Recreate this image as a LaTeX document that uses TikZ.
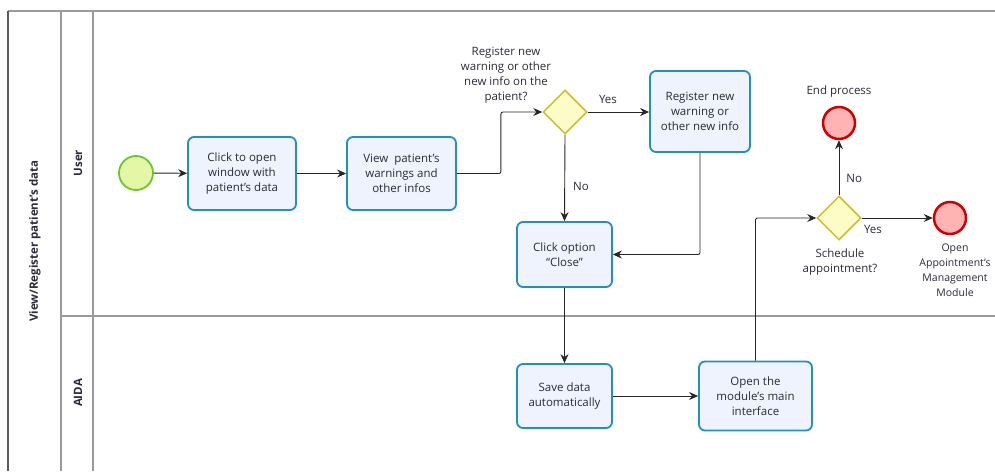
\documentclass[tikz,border=0pt]{standalone}
\usepackage{fontspec}
\setmainfont{Open Sans}
\usetikzlibrary{shapes.geometric,arrows.meta}
\definecolor{taskdraw}{HTML}{2290BE}
\definecolor{taskfill}{HTML}{EEF3FD}
\definecolor{gwdraw}{HTML}{C9C02A}
\definecolor{gwfill}{HTML}{FDFBC6}
\definecolor{stdraw}{HTML}{6AC72A}
\definecolor{stfill}{HTML}{E3F7A6}
\definecolor{endraw}{HTML}{D10000}
\definecolor{enfill}{HTML}{FFB4B4}
\definecolor{txt}{HTML}{2A2A3A}
\definecolor{lanecol}{HTML}{9A9A9A}
\tikzset{
  every node/.style={font=\fontsize{11.5}{15}\selectfont, text=txt},
  taskbox/.style={draw=taskdraw, fill=taskfill, line width=1.8pt, rounded corners=6pt, align=center, inner sep=2pt},
  gateway/.style={diamond, aspect=1, draw=gwdraw, fill=gwfill, line width=1.5pt, minimum width=44pt, minimum height=44pt, inner sep=0pt},
  startev/.style={circle, draw=stdraw, fill=stfill, line width=1.8pt, minimum size=34pt, inner sep=0pt},
  endev/.style={circle, draw=endraw, fill=enfill, line width=2.5pt, minimum size=32pt, inner sep=0pt},
  flow/.style={draw=black!85, line width=0.9pt, rounded corners=2pt, -{Stealth[length=9pt,width=8pt,inset=3pt]}},
  lbl/.style={align=center, inner sep=0pt},
  lanelbl/.style={rotate=90, font=\bfseries\fontsize{11.5}{14}\selectfont},
  laneline/.style={draw=lanecol, line width=1.2pt}
}
\begin{document}
\begin{tikzpicture}[x=1pt,y=-1pt]
\useasboundingbox (0,0) rectangle (995,471);
% pool and lanes
\draw[laneline] (8,11) -- (995,11);
\draw[draw=black!65, line width=1.3pt] (8,11) -- (8,471);
\draw[laneline] (61,11) -- (61,471);
\draw[laneline] (93,11) -- (93,471);
\draw[laneline] (61,316) -- (995,316);
\node[lanelbl] (pool) at (35,241) {View/Register patient's data};
\node[lanelbl] (laneuser) at (78,163) {User};
\node[lanelbl] (laneaida) at (78,393) {AIDA};
% events
\node[startev] (start) at (136,173) {};
\node[endev] (e1) at (839,123) {};
\node[endev] (e2) at (950,218) {};
% tasks
\node[taskbox, minimum width=108pt, minimum height=73pt] (t1) at (242,173.5) {Click to open\\window with\\patient's data};
\node[taskbox, minimum width=109pt, minimum height=73pt] (t2) at (401.5,173.5) {View\ \ patient's\\warnings and\\other infos};
\node[taskbox, minimum width=100pt, minimum height=81pt] (t3) at (700,111.5) {Register new\\warning or\\other new info};
\node[taskbox, minimum width=95pt, minimum height=65pt] (t4) at (564.5,254.5) {Click option\\``Close''};
\node[taskbox, minimum width=95pt, minimum height=64pt] (t5) at (564.5,396) {Save data\\automatically};
\node[taskbox, minimum width=113pt, minimum height=69pt] (t6) at (755.5,396) {Open the\\module's main\\interface};
% gateways
\node[gateway] (g1) at (565,112) {};
\node[gateway] (g2) at (839,218) {};
% labels
\node[lbl] (g1lbl) at (506,75) {Register new\\warning or other\\new info on the\\patient?};
\node[lbl] (g2lbl) at (840,262) {Schedule\\appointment?};
\node[lbl] (e1lbl) at (839,92) {End process};
\node[lbl, font=\fontsize{10.5}{15}\selectfont] (e2lbl) at (955,270) {Open\\Appointment's\\Management\\Module};
% flows
\draw[flow] (start) -- (t1);
\draw[flow] (t1) -- (t2);
\draw[flow] (t2.east) -- ++(44,0) |- (g1.west);
\draw[flow] (g1.east) -- node[lbl, above=8pt, pos=0.33] (yes1) {Yes} (t3.west |- g1.east);
\draw[flow] (g1.south) -- node[lbl, right=8pt, pos=0.6] (no1) {No} (t4.north);
\draw[flow] (t3.south) |- (t4.east);
\draw[flow] (t4.south) -- (t5.north);
\draw[flow] (t5.east) -- (t5.east -| t6.west);
\draw[flow] (t6.north) |- (g2.west);
\draw[flow] (g2.east) -- (g2.east -| e2.west);
\node[lbl] (yes2) at (873,229) {Yes};
\draw[flow] (g2.north) -- node[lbl, right=7pt, pos=0.3] (no2) {No} (e1.south);
\end{tikzpicture}
\end{document}
